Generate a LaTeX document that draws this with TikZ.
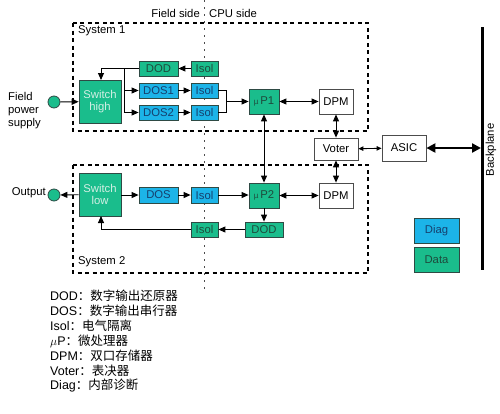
\documentclass[tikz,border=0pt]{standalone}
\usepackage{fontspec}
\setmainfont{Liberation Sans}
\newfontfamily\cjk{Noto Sans CJK SC}
\usetikzlibrary{arrows.meta}
\definecolor{gfill}{HTML}{1ABD8C}
\definecolor{bfill}{HTML}{1CB4E8}
\definecolor{edgec}{HTML}{2E4A44}
\definecolor{gtext}{HTML}{1E4A3C}
\definecolor{btext}{HTML}{16406E}
\definecolor{swtext}{HTML}{D2EFE4}
\tikzset{
  base/.style={rectangle, draw=edgec, line width=0.8pt, inner sep=0pt, font=\fontsize{11.3}{12}\selectfont},
  gbox/.style={base, fill=gfill, text=gtext},
  bbox/.style={base, fill=bfill, text=btext},
  wbox/.style={base, fill=white, draw=black!70, text=black},
  swbox/.style={base, fill=gfill, text=swtext, align=center, minimum width=42pt, minimum height=43pt},
  smallbox/.style={minimum width=39pt, minimum height=15pt},
  isobox/.style={minimum width=27pt, minimum height=15pt},
  term/.style={circle, draw=edgec, fill=gfill, line width=0.8pt, minimum size=12pt, inner sep=0pt},
  conn/.style={line width=0.9pt, -{Triangle[length=7pt,width=6pt]}},
  dconn/.style={line width=0.9pt, {Triangle[length=7pt,width=6pt]}-{Triangle[length=7pt,width=6pt]}},
  sconn/.style={line width=0.9pt, {Triangle[length=5pt,width=4.5pt]}-{Triangle[length=5pt,width=4.5pt]}},
  bconn/.style={line width=2.6pt, {Triangle[length=9pt,width=9pt]}-{Triangle[length=9pt,width=9pt]}},
  plain/.style={line width=0.9pt},
  sysbox/.style={line width=1.1pt, dash pattern=on 4pt off 3.5pt},
  divider/.style={line width=0.9pt, dash pattern=on 2pt off 5pt, draw=black!70},
  lbl/.style={font=\fontsize{11.3}{12}\selectfont, inner sep=0pt},
  leg/.style={font=\fontsize{12.5}{14}\selectfont, inner sep=0pt, anchor=west}
}
\newcommand{\smu}{{\fontsize{8}{8}\selectfont µ}\,}
\begin{document}
\begin{tikzpicture}[x=1pt,y=-1pt]
\useasboundingbox (0,0) rectangle (500,413);
% frames
\draw[sysbox] (73,23) rectangle (368,131);
\draw[sysbox] (73,165) rectangle (368,273);
\draw[divider] (204,0) -- (204,290);
\node[lbl, anchor=east] (fs) at (200,13) {Field side};
\node[lbl, anchor=west] (cs) at (209,13) {CPU side};
\node[lbl, anchor=west] (s1) at (78,31) {System 1};
\node[lbl, anchor=west] (s2) at (78,262) {System 2};
% system 1
\node[term] (in) at (54,102) {};
\node[lbl, anchor=west, align=left, font=\fontsize{11.3}{13}\selectfont] (fps) at (8,111) {Field\\power\\supply};
\node[swbox] (sw1) at (100,101.5) {Switch\\high};
\node[gbox, smallbox] (dod1) at (158.5,68.5) {DOD};
\node[gbox, isobox] (iso1a) at (204.5,68.5) {Isol};
\node[bbox, smallbox] (dos1) at (158.5,90.5) {DOS1};
\node[bbox, isobox] (iso1b) at (204.5,90.5) {Isol};
\node[bbox, smallbox] (dos2) at (158.5,112.5) {DOS2};
\node[bbox, isobox] (iso1c) at (204.5,112.5) {Isol};
\node[gbox, minimum width=30pt, minimum height=25pt] (mp1) at (264,101.5) {\smu P1};
\node[wbox, minimum width=34pt, minimum height=25pt] (dpm1) at (336,101.5) {DPM};
% middle
\node[wbox, minimum width=44pt, minimum height=22pt] (voter) at (336,149) {Voter};
\node[wbox, minimum width=44pt, minimum height=26pt] (asic) at (404,148) {ASIC};
\coordinate (bpt) at (482,27);
\coordinate (bpb) at (482,270);
\coordinate (bpa) at (481,148);
\draw[line width=3pt] (bpt) -- (bpb);
\node[lbl, rotate=90] (bp) at (491,150) {Backplane};
% system 2
\node[term] (out) at (54,195) {};
\node[lbl, anchor=east] (outl) at (46,193) {Output};
\node[swbox] (sw2) at (100,194.5) {Switch\\low};
\node[bbox, minimum width=39pt, minimum height=16pt] (dos) at (158.5,195) {DOS};
\node[bbox, minimum width=27pt, minimum height=16pt] (iso2a) at (204.5,195) {Isol};
\node[gbox, minimum width=30pt, minimum height=25pt] (mp2) at (264,195.5) {\smu P2};
\node[wbox, minimum width=34pt, minimum height=25pt] (dpm2) at (336,195.5) {DPM};
\node[gbox, minimum width=38pt, minimum height=15pt] (dod2) at (264,229.5) {DOD};
\node[gbox, isobox] (iso2b) at (204.5,229.5) {Isol};
% legend boxes
\node[bbox, minimum width=45pt, minimum height=25pt] (diag) at (436.5,230.5) {Diag};
\node[gbox, minimum width=45pt, minimum height=25pt] (data) at (436.5,259.5) {Data};
% connectors system 1
\draw[conn] (in) -- (sw1);
\draw[conn] (iso1a) -- (dod1);
\draw[conn] (dod1.west) -| (101,80);
\coordinate (busT) at (124,68.5);
\coordinate (busB) at (124,112.5);
\draw[plain] (busT) -- (busB);
\draw[conn] (124,90.5) -- (dos1.west);
\draw[conn] (busB) -- (dos2.west);
\draw[conn] (dos1) -- (iso1b);
\draw[conn] (dos2) -- (iso1c);
\coordinate (mrgT) at (226,90.5);
\coordinate (mrgB) at (226,112.5);
\draw[plain] (iso1b.east) -- (mrgT) -- (mrgB) -- (iso1c.east);
\draw[conn] (226,101.5) -- (mp1.west);
\draw[dconn] (mp1) -- (dpm1);
\draw[dconn] (dpm1) -- (voter);
\draw[dconn] (mp1) -- (mp2);
\draw[dconn] (voter) -- (dpm2);
\draw[sconn] (voter) -- (asic);
\draw[bconn] (asic.east) -- (bpa);
% connectors system 2
\draw[conn] (sw2) -- (out);
\draw[conn] (sw2.east |- dos.west) -- (dos.west);
\draw[conn] (dos) -- (iso2a);
\draw[conn] (iso2a.east) -- (mp2.west |- iso2a.east);
\draw[dconn] (mp2) -- (dpm2);
\draw[conn] (mp2) -- (dod2);
\draw[conn] (dod2) -- (iso2b);
\draw[conn] (iso2b.west) -| (101,216);
% legend text
\node[leg] (l1) at (50,296) {DOD\cjk ：数字输出还原器};
\node[leg] (l2) at (50,311) {DOS\cjk ：数字输出串行器};
\node[leg] (l3) at (50,326) {Isol\cjk ：电气隔离};
\node[leg] (l4) at (50,341) {$\mu$P\cjk ：微处理器};
\node[leg] (l5) at (50,356) {DPM\cjk ：双口存储器};
\node[leg] (l6) at (50,371) {Voter\cjk ：表决器};
\node[leg] (l7) at (50,386) {Diag\cjk ：内部诊断};
\end{tikzpicture}
\end{document}
